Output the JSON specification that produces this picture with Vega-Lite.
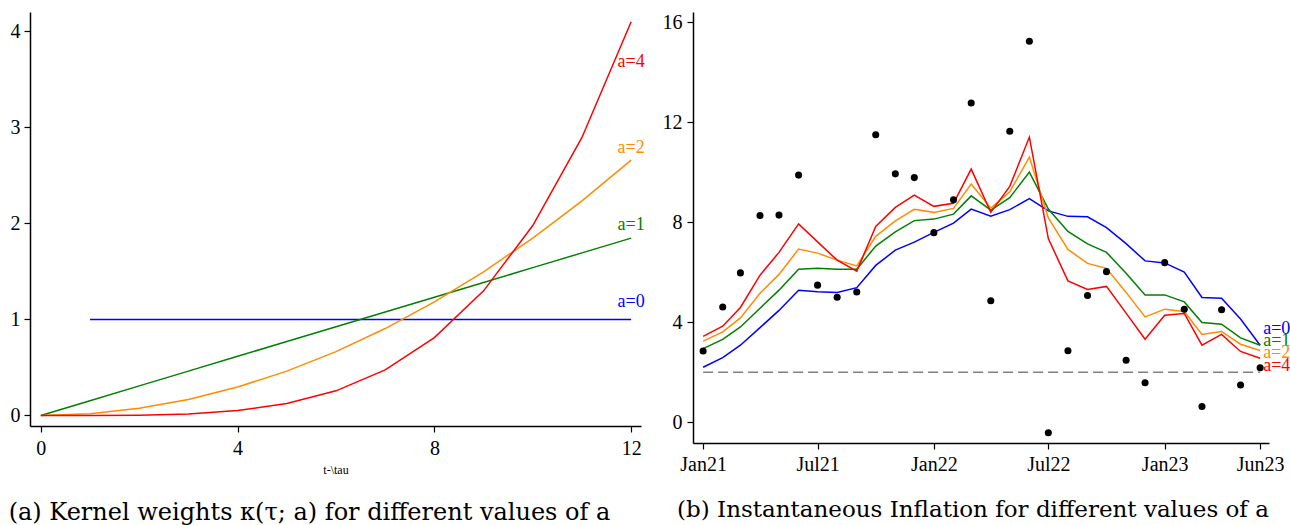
{
"$schema": "https://vega.github.io/schema/vega-lite/v6.json",
"padding": {"left": 8, "top": 12, "right": 0, "bottom": 0},
"background": "white",
"config": {
  "view": {"stroke": null},
  "font": "Liberation Serif, Times New Roman, serif",
  "text": {"font": "Liberation Serif, Times New Roman, serif"},
  "axis": {"grid": false, "domainColor": "#000", "tickColor": "#000", "domainWidth": 1.5, "tickWidth": 1.2, "tickSize": 6, "labelFont": "Liberation Serif, Times New Roman, serif", "labelFontSize": 20, "labelColor": "#000", "titleFont": "Liberation Serif, Times New Roman, serif", "titleFontWeight": "normal", "titleColor": "#000"},
  "axisY": {"labelPadding": 4},
  "axisX": {"labelPadding": 6},
  "title": {"font": "DejaVu Serif", "fontSize": 24, "fontWeight": "normal", "color": "#000", "orient": "bottom"}
},
"datasets": {
  "kernel": [
    {"a":"a=0","t":1,"w":1},{"a":"a=0","t":2,"w":1},{"a":"a=0","t":3,"w":1},{"a":"a=0","t":4,"w":1},{"a":"a=0","t":5,"w":1},{"a":"a=0","t":6,"w":1},{"a":"a=0","t":7,"w":1},{"a":"a=0","t":8,"w":1},{"a":"a=0","t":9,"w":1},{"a":"a=0","t":10,"w":1},{"a":"a=0","t":11,"w":1},{"a":"a=0","t":12,"w":1},
    {"a":"a=1","t":0,"w":0},{"a":"a=1","t":1,"w":0.1538},{"a":"a=1","t":2,"w":0.3077},{"a":"a=1","t":3,"w":0.4615},{"a":"a=1","t":4,"w":0.6154},{"a":"a=1","t":5,"w":0.7692},{"a":"a=1","t":6,"w":0.9231},{"a":"a=1","t":7,"w":1.0769},{"a":"a=1","t":8,"w":1.2308},{"a":"a=1","t":9,"w":1.3846},{"a":"a=1","t":10,"w":1.5385},{"a":"a=1","t":11,"w":1.6923},{"a":"a=1","t":12,"w":1.8462},
    {"a":"a=2","t":0,"w":0},{"a":"a=2","t":1,"w":0.0185},{"a":"a=2","t":2,"w":0.0738},{"a":"a=2","t":3,"w":0.1662},{"a":"a=2","t":4,"w":0.2954},{"a":"a=2","t":5,"w":0.4615},{"a":"a=2","t":6,"w":0.6646},{"a":"a=2","t":7,"w":0.9046},{"a":"a=2","t":8,"w":1.1815},{"a":"a=2","t":9,"w":1.4954},{"a":"a=2","t":10,"w":1.8462},{"a":"a=2","t":11,"w":2.2338},{"a":"a=2","t":12,"w":2.6585},
    {"a":"a=4","t":0,"w":0},{"a":"a=4","t":1,"w":0.0002},{"a":"a=4","t":2,"w":0.0032},{"a":"a=4","t":3,"w":0.016},{"a":"a=4","t":4,"w":0.0506},{"a":"a=4","t":5,"w":0.1235},{"a":"a=4","t":6,"w":0.2562},{"a":"a=4","t":7,"w":0.4746},{"a":"a=4","t":8,"w":0.8096},{"a":"a=4","t":9,"w":1.2969},{"a":"a=4","t":10,"w":1.9766},{"a":"a=4","t":11,"w":2.894},{"a":"a=4","t":12,"w":4.0988}
  ],
  "klabels": [
    {"a":"a=0","t":12,"w":1.18},{"a":"a=1","t":12,"w":1.98},{"a":"a=2","t":12,"w":2.78},{"a":"a=4","t":12,"w":3.68}
  ],
  "infl": [
    {"date":"2021-01-01","pi":2.85,"a=0":2.20,"a=1":2.94,"a=2":3.24,"a=4":3.43},
    {"date":"2021-02-01","pi":4.61,"a=0":2.58,"a=1":3.31,"a=2":3.61,"a=4":3.84},
    {"date":"2021-03-01","pi":5.97,"a=0":3.08,"a=1":3.81,"a=2":4.17,"a=4":4.59},
    {"date":"2021-04-01","pi":8.26,"a=0":3.78,"a=1":4.56,"a=2":5.16,"a=4":5.88},
    {"date":"2021-05-01","pi":8.28,"a=0":4.47,"a=1":5.28,"a=2":5.91,"a=4":6.79},
    {"date":"2021-06-01","pi":9.88,"a=0":5.28,"a=1":6.12,"a=2":6.92,"a=4":7.93},
    {"date":"2021-07-01","pi":5.48,"a=0":5.22,"a=1":6.16,"a=2":6.76,"a=4":7.21},
    {"date":"2021-08-01","pi":5.00,"a=0":5.19,"a=1":6.12,"a=2":6.48,"a=4":6.48},
    {"date":"2021-09-01","pi":5.21,"a=0":5.38,"a=1":6.12,"a=2":6.25,"a=4":6.04},
    {"date":"2021-10-01","pi":11.49,"a=0":6.27,"a=1":7.04,"a=2":7.43,"a=4":7.83},
    {"date":"2021-11-01","pi":9.93,"a=0":6.88,"a=1":7.61,"a=2":8.05,"a=4":8.59},
    {"date":"2021-12-01","pi":9.78,"a=0":7.20,"a=1":8.06,"a=2":8.51,"a=4":9.08},
    {"date":"2022-01-01","pi":7.58,"a=0":7.59,"a=1":8.12,"a=2":8.39,"a=4":8.63},
    {"date":"2022-02-01","pi":8.89,"a=0":7.96,"a=1":8.32,"a=2":8.55,"a=4":8.75},
    {"date":"2022-03-01","pi":12.76,"a=0":8.52,"a=1":9.05,"a=2":9.52,"a=4":10.12},
    {"date":"2022-04-01","pi":4.86,"a=0":8.24,"a=1":8.48,"a=2":8.56,"a=4":8.39},
    {"date":"2022-05-01","pi":11.63,"a=0":8.50,"a=1":8.98,"a=2":9.21,"a=4":9.43},
    {"date":"2022-06-01","pi":15.23,"a=0":8.94,"a=1":10.0,"a=2":10.6,"a=4":11.4},
    {"date":"2022-07-01","pi":-0.42,"a=0":8.45,"a=1":8.52,"a=2":8.17,"a=4":7.34},
    {"date":"2022-08-01","pi":2.86,"a=0":8.23,"a=1":7.63,"a=2":6.91,"a=4":5.65},
    {"date":"2022-09-01","pi":5.07,"a=0":8.21,"a=1":7.13,"a=2":6.35,"a=4":5.31},
    {"date":"2022-10-01","pi":6.02,"a=0":7.78,"a=1":6.79,"a=2":6.15,"a=4":5.43},
    {"date":"2022-11-01","pi":2.48,"a=0":7.14,"a=1":5.96,"a=2":5.19,"a=4":4.36},
    {"date":"2022-12-01","pi":1.58,"a=0":6.45,"a=1":5.09,"a=2":4.21,"a=4":3.32},
    {"date":"2023-01-01","pi":6.38,"a=0":6.37,"a=1":5.09,"a=2":4.52,"a=4":4.28},
    {"date":"2023-02-01","pi":4.52,"a=0":6.00,"a=1":4.81,"a=2":4.43,"a=4":4.35},
    {"date":"2023-03-01","pi":0.63,"a=0":4.99,"a=1":3.99,"a=2":3.51,"a=4":3.08},
    {"date":"2023-04-01","pi":4.50,"a=0":4.96,"a=1":3.92,"a=2":3.63,"a=4":3.51},
    {"date":"2023-05-01","pi":1.49,"a=0":4.13,"a=1":3.37,"a=2":3.12,"a=4":2.83},
    {"date":"2023-06-01","pi":2.18,"a=0":3.08,"a=1":3.08,"a=2":2.87,"a=4":2.56}
  ],
  "ilabels": [
    {"a":"a=0","date":"2023-06-01","v":3.72},{"a":"a=1","date":"2023-06-01","v":3.24},{"a":"a=2","date":"2023-06-01","v":2.75},{"a":"a=4","date":"2023-06-01","v":2.24}
  ],
  "target": [
    {"date":"2021-01-01","v":2},{"date":"2023-06-01","v":2}
  ]
},
"spacing": 17,
"hconcat": [
  {
    "width": 611,
    "height": 414,
    "title": {"text": "(a) Kernel weights κ(τ; a) for different values of a", "anchor": "middle", "dx": -26, "offset": 26},
    "layer": [
      {
        "data": {"name": "kernel"},
        "mark": {"type": "line", "strokeWidth": 1.5},
        "encoding": {
          "x": {"field": "t", "type": "quantitative", "scale": {"domain": [-0.22, 12.2], "nice": false, "zero": false}, "axis": {"values": [0, 4, 8, 12], "title": "t-\\tau", "titleFontSize": 12, "titlePadding": 6}},
          "y": {"field": "w", "type": "quantitative", "scale": {"domain": [-0.11, 4.2], "nice": false, "zero": false}, "axis": {"values": [0, 1, 2, 3, 4], "format": "d", "title": null}},
          "color": {"field": "a", "type": "nominal", "scale": {"domain": ["a=0", "a=1", "a=2", "a=4"], "range": ["#0000ff", "#008000", "#ff8c00", "#ff0000"]}, "legend": null}
        }
      },
      {
        "data": {"name": "klabels"},
        "mark": {"type": "text", "fontSize": 18, "align": "center", "baseline": "middle", "font": "Liberation Serif, Times New Roman, serif"},
        "encoding": {
          "x": {"field": "t", "type": "quantitative"},
          "y": {"field": "w", "type": "quantitative"},
          "text": {"field": "a"},
          "color": {"field": "a", "type": "nominal", "legend": null}
        }
      }
    ]
  },
  {
    "width": 576,
    "height": 431,
    "title": {"text": "(b) Instantaneous Inflation for different values of a", "anchor": "middle", "dx": -8, "offset": 25, "fontSize": 23},
    "layer": [
      {
        "data": {"name": "target"},
        "mark": {"type": "line", "color": "#808080", "strokeWidth": 1.5, "strokeDash": [10, 5]},
        "encoding": {
          "x": {"field": "date", "type": "temporal", "scale": {"type": "utc", "domain": [{"year": 2020, "month": 12, "date": 16, "utc": true}, {"year": 2023, "month": 6, "date": 15, "utc": true}], "nice": false}, "axis": {"values": [{"year": 2021, "month": 1, "date": 1, "utc": true}, {"year": 2021, "month": 7, "date": 1, "utc": true}, {"year": 2022, "month": 1, "date": 1, "utc": true}, {"year": 2022, "month": 7, "date": 1, "utc": true}, {"year": 2023, "month": 1, "date": 1, "utc": true}, {"year": 2023, "month": 6, "date": 1, "utc": true}], "format": "%b%y", "title": null, "labelPadding": 5}},
          "y": {"field": "v", "type": "quantitative", "scale": {"domain": [-0.83, 16.4], "nice": false, "zero": false}, "axis": {"values": [0, 4, 8, 12, 16], "title": null, "labelPadding": 5}}
        }
      },
      {
        "data": {"name": "infl"},
        "transform": [{"fold": ["a=0", "a=1", "a=2", "a=4"], "as": ["a", "v"]}],
        "mark": {"type": "line", "strokeWidth": 1.5},
        "encoding": {
          "x": {"field": "date", "type": "temporal"},
          "y": {"field": "v", "type": "quantitative"},
          "color": {"field": "a", "type": "nominal", "scale": {"domain": ["a=0", "a=1", "a=2", "a=4"], "range": ["#0000ff", "#008000", "#ff8c00", "#ff0000"]}, "legend": null}
        }
      },
      {
        "data": {"name": "infl"},
        "mark": {"type": "point", "filled": true, "size": 50, "color": "#000", "opacity": 1},
        "encoding": {
          "x": {"field": "date", "type": "temporal"},
          "y": {"field": "pi", "type": "quantitative"}
        }
      },
      {
        "data": {"name": "ilabels"},
        "mark": {"type": "text", "fontSize": 18, "align": "left", "baseline": "middle", "dx": 3, "font": "Liberation Serif, Times New Roman, serif"},
        "encoding": {
          "x": {"field": "date", "type": "temporal"},
          "y": {"field": "v", "type": "quantitative"},
          "text": {"field": "a"},
          "color": {"field": "a", "type": "nominal", "legend": null}
        }
      }
    ]
  }
]
}
